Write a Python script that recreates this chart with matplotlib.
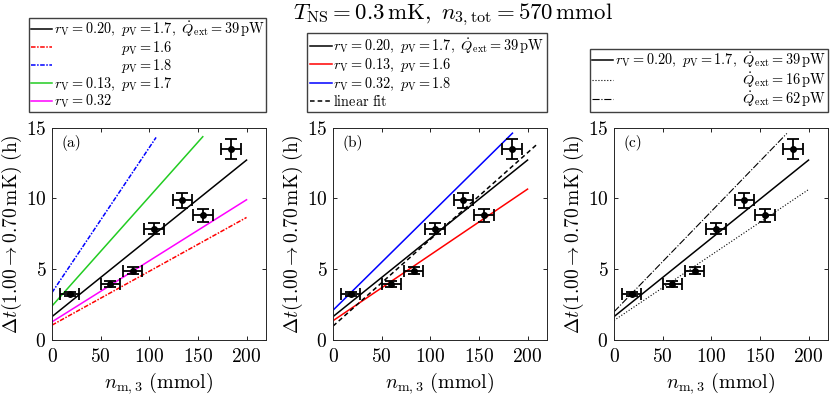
import matplotlib
matplotlib.use('Agg')
from matplotlib import pyplot as plt
from matplotlib.textpath import TextToPath
from matplotlib.font_manager import FontProperties

plt.rcParams['font.family'] = 'serif'
plt.rcParams['font.serif'] = ['cmr10']
plt.rcParams['mathtext.fontset'] = 'cm'
plt.rcParams['axes.formatter.use_mathtext'] = True
plt.rcParams['axes.unicode_minus'] = False

# measured points
n_m3 = [18, 60, 83, 105, 134, 155, 184]
n_m3_err = [10, 10, 10, 10, 10, 10, 10]
dt = [3.25, 3.95, 4.9, 7.85, 9.85, 8.8, 13.5]
dt_err = [0.15, 0.2, 0.25, 0.4, 0.5, 0.45, 0.7]

# model lines (end points)
ref_x = [0, 200]
ref_y = [1.65, 12.7]

# panel (a)
a_pv16_x, a_pv16_y = [0, 200], [1.05, 8.65]
a_pv18_x, a_pv18_y = [0, 107], [3.35, 14.3]
a_rv13_x, a_rv13_y = [0, 155], [2.4, 14.35]
a_rv32_x, a_rv32_y = [0, 200], [1.28, 9.9]

# panel (b)
b_low_x, b_low_y = [0, 200], [1.36, 10.65]
b_high_x, b_high_y = [0, 184.5], [2.1, 14.6]
fit_x, fit_y = [0, 210], [0.98, 13.83]

# panel (c)
c_q16_x, c_q16_y = [0, 200], [1.38, 10.62]
c_q62_x, c_q62_y = [0, 177.7], [1.99, 14.58]

LEG_FS = 10.3
t2p = TextToPath()
fp = FontProperties(size=LEG_FS)


def mwidth(s):
    w, h, d = t2p.get_text_width_height_descent(s, fp, ismath=True)
    return w


# size of one \hspace unit, measured
HS_UNIT = (mwidth(r'$\hspace{10}m$') - mwidth(r'$m$')) / 10.


def hsp(prefix, target):
    # shift target so it sits where it would after prefix
    full = mwidth('$' + prefix + target + '$')
    alone = mwidth('$' + target + '$')
    return r'\hspace{%.3f}' % ((full - alone) / HS_UNIT)


ref_lab = r'$r_\mathrm{V} = 0.20,\ p_\mathrm{V} = 1.7,\ \dot{Q}_\mathrm{ext} = 39\,\mathrm{pW}$'
pre_p = r'r_\mathrm{V} = 0.20,\ '
pre_q = r'r_\mathrm{V} = 0.20,\ p_\mathrm{V} = 1.7,\ '

fig = plt.figure(figsize=(8.3, 3.98), dpi=100)
W, H = 830., 398.
lefts = [52, 333, 614]
axes = [fig.add_axes([l / W, 1 - 340 / H, 214 / W, 212.5 / H]) for l in lefts]

for ax, tag in zip(axes, ['(a)', '(b)', '(c)']):
    ax.set_xlim(0, 220)
    ax.set_ylim(0, 15)
    ax.set_xticks([0, 50, 100, 150, 200])
    ax.set_yticks([0, 5, 10, 15])
    ax.tick_params(direction='in', top=True, right=True, length=3, width=0.6,
                   labelsize=14)
    ax.tick_params(axis='x', pad=6)
    ax.tick_params(axis='y', pad=4)
    for s in ax.spines.values():
        s.set_linewidth(0.7)
        s.set_color('#262626')
    ax.set_xlabel(r'$n_{\mathrm{m},3}\ (\mathrm{mmol})$', fontsize=14.5, labelpad=3)
    ax.set_ylabel(r'$\Delta t(1.00 \rightarrow 0.70\,\mathrm{mK})\ (\mathrm{h})$',
                  fontsize=14, labelpad=1)
    ax.text(0.045, 0.965, tag, transform=ax.transAxes, va='top', ha='left', fontsize=11)

lw = 1.1
# (a)
ax = axes[0]
ax.plot(ref_x, ref_y, 'k-', lw=lw, label=ref_lab)
ax.plot(a_pv16_x, a_pv16_y, color='#ff0000', ls=(0, (3, 1, 1, 1)), lw=lw,
        label='$' + hsp(pre_p, r'p_\mathrm{V}') + r'p_\mathrm{V} = 1.6$')
ax.plot(a_pv18_x, a_pv18_y, color='#0000ff', ls=(0, (3, 1, 1, 1)), lw=lw,
        label='$' + hsp(pre_p, r'p_\mathrm{V}') + r'p_\mathrm{V} = 1.8$')
ax.plot(a_rv13_x, a_rv13_y, color='#22cc22', lw=lw,
        label=r'$r_\mathrm{V} = 0.13,\ p_\mathrm{V} = 1.7$')
ax.plot(a_rv32_x, a_rv32_y, color='#ff00ff', lw=lw, label=r'$r_\mathrm{V} = 0.32$')

# (b)
ax = axes[1]
ax.plot(ref_x, ref_y, 'k-', lw=lw, label=ref_lab)
ax.plot(b_low_x, b_low_y, color='#ff0000', lw=lw,
        label=r'$r_\mathrm{V} = 0.13,\ p_\mathrm{V} = 1.6$')
ax.plot(b_high_x, b_high_y, color='#0000ff', lw=lw,
        label=r'$r_\mathrm{V} = 0.32,\ p_\mathrm{V} = 1.8$')
ax.plot(fit_x, fit_y, 'k--', lw=lw, dashes=(3, 2), label=r'$\mathrm{linear\ fit}$')

# (c)
ax = axes[2]
ax.plot(ref_x, ref_y, 'k-', lw=lw, label=ref_lab)
ax.plot(c_q16_x, c_q16_y, 'k:', lw=0.8,
        label='$' + hsp(pre_q, r'\dot{Q}') + r'\dot{Q}_\mathrm{ext} = 16\,\mathrm{pW}$')
ax.plot(c_q62_x, c_q62_y, 'k-.', lw=0.8,
        label='$' + hsp(pre_q, r'\dot{Q}') + r'\dot{Q}_\mathrm{ext} = 62\,\mathrm{pW}$')

spacings = [0.0, 0.05, 0.0]
bpads = [0.1, 0.2, 0.15]
for ax, sp, bp in zip(axes, spacings, bpads):
    ax.errorbar(n_m3, dt, xerr=n_m3_err, yerr=dt_err, fmt='o', color='k',
                ms=4, elinewidth=1.3, capsize=4, capthick=1.3, zorder=5)
    leg = ax.legend(loc='lower right', bbox_to_anchor=(1.0, 1.075), borderaxespad=0,
                    fontsize=LEG_FS, handlelength=1.5, handletextpad=0.1,
                    borderpad=bp, labelspacing=sp, fancybox=False, framealpha=1)
    leg.get_frame().set_edgecolor('#404040')
    leg.get_frame().set_linewidth(1.0)

fig.text(453 / W, 1 - 1 / H,
         r'$T_\mathrm{NS} = 0.3\,\mathrm{mK},\ n_{3,\mathrm{tot}} = 570\,\mathrm{mmol}$',
         ha='center', va='top', fontsize=16.5)

plt.savefig('out.png', dpi=100)
